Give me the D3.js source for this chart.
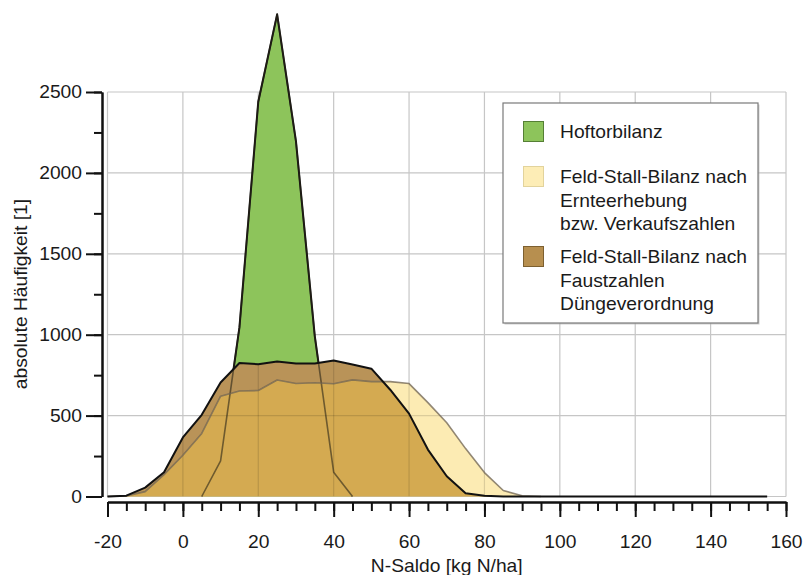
<!DOCTYPE html>
<html>
<head>
<meta charset="utf-8">
<script src="https://cdn.jsdelivr.net/npm/d3@7"></script>
<style>
  html, body { margin: 0; padding: 0; background: #fff; }
  svg { display: block; font-family: "Liberation Sans", Arial, Helvetica, sans-serif; }
</style>
</head>
<body>
<svg id="chart" width="806" height="575"></svg>
<script>
// N-Saldo classes (kg N/ha) and absolute frequencies per balance method
const saldoHof = [5, 10, 15, 20, 25, 30, 35, 40, 45];
const hofValues = [0, 220, 1045, 2440, 2980, 2195, 990, 150, 0];

const saldoErnte = [-20, -15, -10, -5, 0, 5, 10, 15, 20, 25, 30, 35, 40, 45, 50, 55, 60, 65, 70, 75, 80, 85, 90, 95];
const ernteValues = [0, 4, 30, 135, 255, 390, 620, 652, 655, 720, 698, 703, 697, 721, 710, 710, 698, 580, 456, 296, 148, 37, 5, 0];

const saldoFaust = [-20, -15, -10, -5, 0, 5, 10, 15, 20, 25, 30, 35, 40, 45, 50, 55, 60, 65, 70, 75, 80, 85,
                    90, 95, 100, 105, 110, 115, 120, 125, 130, 135, 140, 145, 150, 155];
const faustValues = [0, 5, 55, 150, 365, 505, 705, 825, 818, 835, 822, 822, 840, 816, 790, 660, 512, 290, 125, 20, 4, 0,
                     0, 0, 0, 0, 0, 0, 0, 0, 0, 0, 0, 0, 0, 0];

const xTicks = [-20, 0, 20, 40, 60, 80, 100, 120, 140, 160];
const yTicks = [0, 500, 1000, 1500, 2000, 2500];

const legendItems = [
  { lines: ["Hoftorbilanz"], fill: "#8dc45b", stroke: "#557f35" },
  { lines: ["Feld-Stall-Bilanz nach", "Ernteerhebung", "bzw. Verkaufszahlen"], fill: "#fdedb6", stroke: "#e2d39c" },
  { lines: ["Feld-Stall-Bilanz nach", "Faustzahlen", "Düngeverordnung"], fill: "#b78f4f", stroke: "#7d6030" }
];

const xTitle = "N-Saldo [kg N/ha]";
const yTitle = "absolute Häufigkeit [1]";

const svg = d3.select("#chart");
const FONT = 17.5;
const STRETCH = 1.1;

const x = d3.scaleLinear().domain([-20, 160]).range([107.5, 786]);
const y = d3.scaleLinear().domain([0, 2500]).range([496.5, 92]);

const hof = saldoHof.map((s, i) => ({ s, v: hofValues[i] }));
const ernte = saldoErnte.map((s, i) => ({ s, v: ernteValues[i] }));
const faust = saldoFaust.map((s, i) => ({ s, v: faustValues[i] }));

const area = d3.area().x(d => x(d.s)).y0(y(0)).y1(d => y(d.v));
const line = d3.line().x(d => x(d.s)).y(d => y(d.v));

// plain number labels with an ASCII hyphen for negatives
const plain = d => String(d);

// widen text glyphs horizontally around their anchor
function widen(sel) {
  sel.each(function () {
    const t = d3.select(this);
    const tx = +t.attr("x") || 0, ty = +t.attr("y") || 0;
    t.attr("x", 0).attr("y", 0)
     .attr("transform", `translate(${tx},${ty}) scale(${STRETCH},1)`);
  });
}

const defs = svg.append("defs");
defs.append("clipPath").attr("id", "clipFaust")
  .append("path").attr("d", area(faust));
const unionClip = defs.append("clipPath").attr("id", "clipFill");
unionClip.append("path").attr("d", area(faust));
unionClip.append("path").attr("d", area(ernte));

// grid
function drawGrid(g, stroke, opacity) {
  g.selectAll("line.v").data(xTicks).join("line").attr("class", "v")
    .attr("x1", d => x(d)).attr("x2", d => x(d))
    .attr("y1", y(0)).attr("y2", y(2500))
    .attr("stroke", stroke).attr("stroke-opacity", opacity).attr("stroke-width", 1.2);
  g.selectAll("line.h").data(yTicks).join("line").attr("class", "h")
    .attr("x1", x(-20)).attr("x2", x(160))
    .attr("y1", d => y(d)).attr("y2", d => y(d))
    .attr("stroke", stroke).attr("stroke-opacity", opacity).attr("stroke-width", 1.2);
}
drawGrid(svg.append("g"), "#c6c6c6", 1);

// Hoftorbilanz
svg.append("path").attr("d", area(hof)).attr("fill", "#8dc45b");
svg.append("path").attr("d", line(hof)).attr("fill", "none")
  .attr("stroke", "#111").attr("stroke-width", 2).attr("stroke-linejoin", "round");

// Faustzahlen fill (over plain background)
svg.append("path").attr("d", area(faust)).attr("fill", "#b99358");
// Ernteerhebung fill
svg.append("path").attr("d", area(ernte)).attr("fill", "#fcebb3");
// overlap of both Feld-Stall fills
svg.append("path").attr("d", area(ernte)).attr("fill", "#d4aa51")
  .attr("clip-path", "url(#clipFaust)");

// grid shining through the translucent fills
drawGrid(svg.append("g").attr("clip-path", "url(#clipFill)"), "#000", 0.13);

// outlines
svg.append("path").attr("d", line(hof)).attr("fill", "none")
  .attr("stroke", "#2a2418").attr("stroke-opacity", 0.6).attr("stroke-width", 1.6)
  .attr("stroke-linejoin", "round");
svg.append("path").attr("d", line(ernte)).attr("fill", "none")
  .attr("stroke", "#6e6250").attr("stroke-opacity", 0.75).attr("stroke-width", 1.6)
  .attr("stroke-linejoin", "round");
svg.append("path").attr("d", line(faust)).attr("fill", "none")
  .attr("stroke", "#111").attr("stroke-width", 2).attr("stroke-linejoin", "round");

// y axis
const yAxisX = 102;
const yMinor = svg.append("g").attr("transform", `translate(${yAxisX},0)`)
  .call(d3.axisLeft(y).tickValues(d3.range(0, 2501, 250)).tickSize(8).tickSizeOuter(0).tickFormat(""));
const yMajor = svg.append("g").attr("transform", `translate(${yAxisX},0)`)
  .call(d3.axisLeft(y).tickValues(yTicks).tickFormat(plain).tickSize(16).tickSizeOuter(0).tickPadding(4));
[yMinor, yMajor].forEach(g => {
  g.select(".domain").attr("stroke", "#111").attr("stroke-width", 2);
  g.selectAll(".tick line").attr("stroke", "#111").attr("stroke-width", 2);
});
yMajor.selectAll("text").attr("font-size", FONT).attr("fill", "#1a1a1a")
  .attr("font-family", "Liberation Sans, Arial, sans-serif").call(widen);

// x axis
const xAxisY = 502;
const xMinor = svg.append("g").attr("transform", `translate(0,${xAxisY})`)
  .call(d3.axisBottom(x).tickValues(d3.range(-20, 161, 5)).tickSize(9).tickSizeOuter(0).tickFormat(""));
const xMajor = svg.append("g").attr("transform", `translate(0,${xAxisY})`)
  .call(d3.axisBottom(x).tickValues(xTicks).tickFormat(plain).tickSize(15).tickSizeOuter(0));
[xMinor, xMajor].forEach(g => {
  g.select(".domain").attr("stroke", "#111").attr("stroke-width", 2);
  g.selectAll(".tick line").attr("stroke", "#111").attr("stroke-width", 2);
});
xMajor.selectAll("text").attr("font-size", FONT).attr("fill", "#1a1a1a")
  .attr("font-family", "Liberation Sans, Arial, sans-serif")
  .attr("y", 46).attr("dy", 0).call(widen);

// axis titles
svg.append("text").attr("x", 0).attr("y", 0)
  .attr("transform", `translate(${(x(-20) + x(160)) / 2},572) scale(${STRETCH},1)`)
  .attr("text-anchor", "middle").attr("font-size", FONT).attr("fill", "#1a1a1a")
  .text(xTitle);
svg.append("text").attr("x", 0).attr("y", 0)
  .attr("transform", `translate(27,294) rotate(-90) scale(${STRETCH},1)`)
  .attr("text-anchor", "middle").attr("font-size", FONT).attr("fill", "#1a1a1a")
  .text(yTitle);

// legend
const lg = svg.append("g");
lg.append("rect").attr("x", 504.5).attr("y", 104.5).attr("width", 255).attr("height", 220)
  .attr("fill", "#b0b0b0").attr("opacity", 0.6);
lg.append("rect").attr("x", 503).attr("y", 103).attr("width", 255).attr("height", 220)
  .attr("fill", "#fff").attr("stroke", "#7a7a7a").attr("stroke-width", 1.2);
const swatchY = [121, 166, 246];
const lineH = 23.5;
legendItems.forEach((it, i) => {
  lg.append("rect").attr("x", 523.5).attr("y", swatchY[i] + 0.5).attr("width", 20).attr("height", 20)
    .attr("fill", it.fill).attr("stroke", it.stroke).attr("stroke-width", 1);
  it.lines.forEach((t, j) => {
    lg.append("text").attr("x", 0).attr("y", 0)
      .attr("transform", `translate(560,${swatchY[i] + 17 + j * lineH}) scale(${STRETCH},1)`)
      .attr("font-size", FONT).attr("fill", "#1a1a1a").text(t);
  });
});
</script>
</body>
</html>
